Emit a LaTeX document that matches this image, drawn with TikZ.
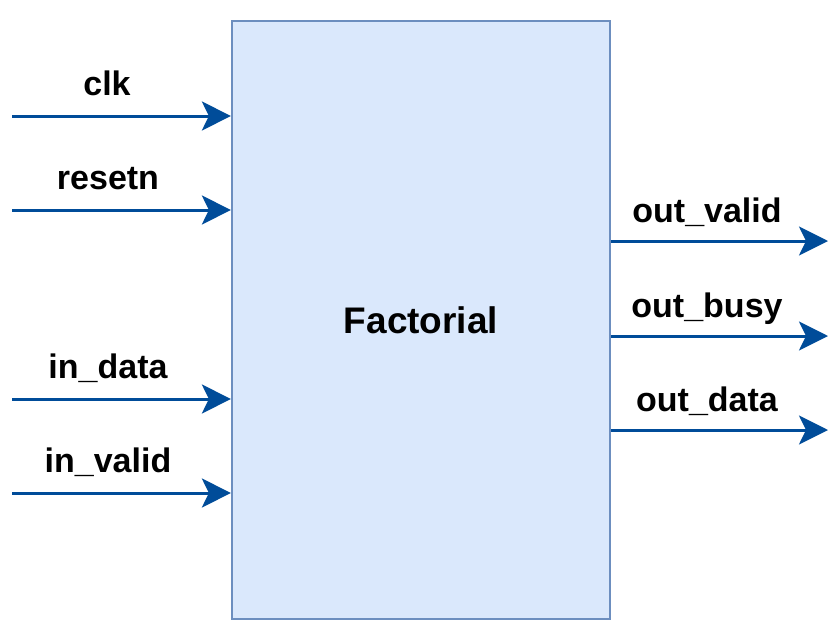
\documentclass[tikz,border=0pt]{standalone}
\usepackage{fontspec}
\setmainfont{Liberation Sans}
\usepackage{tikz}
\usetikzlibrary{positioning}
\usetikzlibrary{arrows.meta}
\usetikzlibrary{calc}

\definecolor{boxfill}{HTML}{DAE8FC}
\definecolor{boxline}{HTML}{6C8EBF}
\definecolor{sigblue}{HTML}{004C99}

\tikzset{
  blk/.style = {draw=boxline, fill=boxfill, line width=2.2pt, minimum width=378pt,
    minimum height=598pt, inner sep=0pt, font=\fontsize{37}{44}\selectfont\bfseries},
  sig/.style = {draw=sigblue, line width=3pt,
    -{Stealth[length=29pt, width=29pt, inset=7pt]}},
  lbl/.style = {anchor=base, inner sep=0pt, font=\fontsize{34}{40}\selectfont\bfseries}
}

\begin{document}
\begin{tikzpicture}[x=1pt, y=-1pt]
\useasboundingbox (0,0) rectangle (832,634);

\node[blk] (fact) at (421,320) {Factorial};

% inputs
\coordinate (clkin) at (12,116);
\coordinate (rstin) at (12,210);
\coordinate (datain) at (12,399);
\coordinate (validin) at (12,493);

% outputs
\coordinate (validout) at (828,241);
\coordinate (busyout) at (828,336);
\coordinate (dataout) at (828,430);

\node[lbl] (clklbl) at ($(clkin)+(95,-21)$) {clk};
\node[lbl] (rstlbl) at ($(rstin)+(96,-21)$) {resetn};
\node[lbl] (datalbl) at ($(datain)+(96,-21)$) {in\_data};
\node[lbl] (validlbl) at ($(validin)+(96,-21)$) {in\_valid};

\node[lbl] (ovalidlbl) at ($(validout)+(-121,-19)$) {out\_valid};
\node[lbl] (obusylbl) at ($(busyout)+(-121,-19)$) {out\_busy};
\node[lbl] (odatalbl) at ($(dataout)+(-121,-19)$) {out\_data};

\draw[sig] (clkin) -- (clkin -| fact.west);
\draw[sig] (rstin) -- (rstin -| fact.west);
\draw[sig] (datain) -- (datain -| fact.west);
\draw[sig] (validin) -- (validin -| fact.west);

\draw[sig] (validout -| fact.east) -- (validout);
\draw[sig] (busyout -| fact.east) -- (busyout);
\draw[sig] (dataout -| fact.east) -- (dataout);
\end{tikzpicture}
\end{document}
